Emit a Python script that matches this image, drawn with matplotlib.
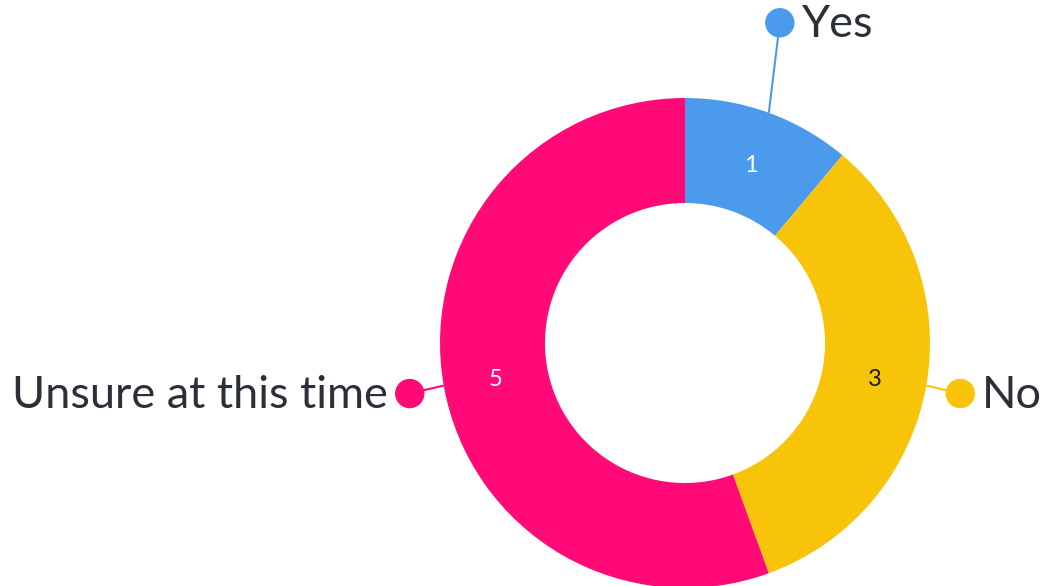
import numpy as np
import matplotlib.pyplot as plt
from matplotlib.patches import Circle

plt.rcParams['font.family'] = ['Lato', 'DejaVu Sans']

categories = ["Yes", "No", "Unsure at this time"]
counts = [1, 3, 5]
colors = ["#4C9AEC", "#F8C40A", "#FF0A76"]
value_colors = ["white", "#1b1b1b", "white"]

# layout in pixels (y measured from bottom)
W, H = 1045, 586
cx, cy = 685, 586 - 343
r_out, r_in = 245, 140
dot_offsets = [(11, 90), (34, -8), (-34, -8)]
text_dark = "#2B2F38"

fig = plt.figure(figsize=(W / 100, H / 100), dpi=100)
ax = fig.add_axes([0, 0, 1, 1])

ax.pie(counts, colors=colors, startangle=90, counterclock=False,
       center=(cx, cy), radius=r_out,
       wedgeprops=dict(width=r_out - r_in, linewidth=0))

total = sum(counts)
start = 0.0
for name, val, col, vcol, (dx, dy) in zip(categories, counts, colors, value_colors, dot_offsets):
    mid = np.deg2rad((start + val / 2) / total * 360)
    start += val
    # count inside ring
    rm = (r_out + r_in) / 2
    ax.text(cx + rm * np.sin(mid), cy + rm * np.cos(mid) - 3, str(val),
            ha="center", va="center", fontsize=17, color=vcol)
    # leader line + dot + label
    ex, ey = cx + r_out * np.sin(mid), cy + r_out * np.cos(mid)
    px, py = ex + dx, ey + dy
    ax.plot([ex, px], [ey, py], color=col, lw=1.5, solid_capstyle="butt")
    ax.add_patch(Circle((px, py), 14, color=col, zorder=5))
    if dx >= 0:
        ax.text(px + 22, py - 2, name, ha="left", va="center", fontsize=32.5, color=text_dark)
    else:
        ax.text(px - 22, py - 2, name, ha="right", va="center", fontsize=32.5, color=text_dark)

ax.set_xlim(0, W)
ax.set_ylim(0, H)
ax.set_aspect("equal")
ax.axis("off")

plt.savefig("out.png", dpi=100, facecolor="white")
